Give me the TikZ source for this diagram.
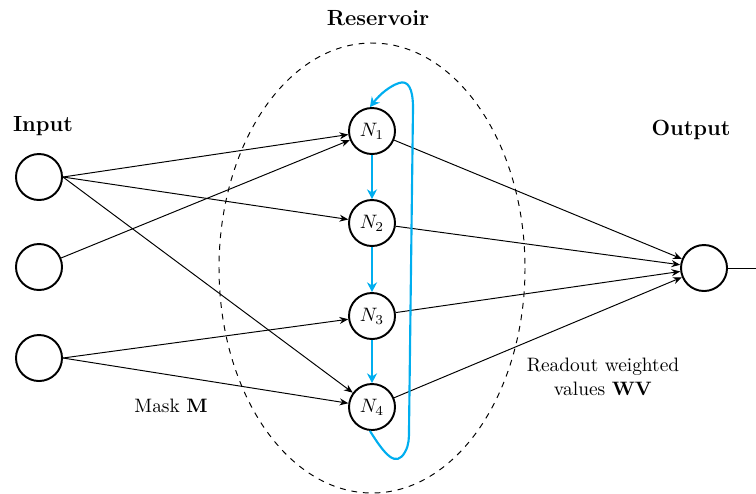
\documentclass[tikz,border=0pt]{standalone}
\usetikzlibrary{arrows.meta}
\definecolor{loopblue}{RGB}{0,174,239}
\begin{document}
\begin{tikzpicture}[x=0.515pt,y=-0.515pt,
  neuron/.style={circle,draw,line width=1pt,minimum size=23.7pt,inner sep=0pt},
  conn/.style={-{Stealth[length=4.5pt,width=3.6pt]},line width=0.5pt},
  feed/.style={-{Stealth[length=5pt,width=5.2pt]},draw=loopblue,fill=none,line width=1.1pt},
  lbl/.style={font=\fontsize{11.3}{13}\selectfont\bfseries}]
\useasboundingbox (0,0) rectangle (756,493);
% reservoir
\draw[dashed,line width=0.5pt] (372,268) ellipse [x radius=153, y radius=225];
\node[lbl] (res) at (378,18) {Reservoir};
% inputs
\node[neuron] (i1) at (39,177) {};
\node[neuron] (i2) at (39,267) {};
\node[neuron] (i3) at (39,358) {};
\node[lbl] (inl) at (43,126) {Input};
% reservoir neurons
\node[neuron] (n1) at (372,131) {$N_1$};
\node[neuron] (n2) at (372,223) {$N_2$};
\node[neuron] (n3) at (372,316) {$N_3$};
\node[neuron] (n4) at (372,407) {$N_4$};
% output
\node[neuron] (o) at (704,268) {};
\node[lbl] (outl) at (691,130) {Output};
\coordinate (oend) at (756,268);
\draw[line width=0.5pt] (o) -- (oend);
% input connections
\draw[conn] (i1.east) -- (n1);
\draw[conn] (i1.east) -- (n2);
\draw[conn] (i1.east) -- (n4);
\draw[conn] (i2) -- (n1);
\draw[conn] (i3.east) -- (n3);
\draw[conn] (i3.east) -- (n4);
% readout
\draw[conn] (n1) -- (o);
\draw[conn] (n2) -- (o);
\draw[conn] (n3) -- (o);
\draw[conn] (n4) -- (o);
% chain
\draw[feed] (n1) -- (n2);
\draw[feed] (n2) -- (n3);
\draw[feed] (n3) -- (n4);
% feedback loop
\coordinate (lb) at (409,430);
\coordinate (lt) at (413,108);
\draw[feed] (n4.-95) .. controls (385,455) and (396,468) .. (405,452)
  .. controls (409,445) and (409,438) .. (lb) -- (lt)
  .. controls (413,88) and (408,80) .. (399,83)
  .. controls (390,86) and (380,94) .. (n1.95);
% labels
\node (mask) at (171,406) {Mask $\mathbf{M}$};
\node[align=center] (ro) at (603,377) {Readout weighted\\values $\mathbf{WV}$};
\end{tikzpicture}
\end{document}
